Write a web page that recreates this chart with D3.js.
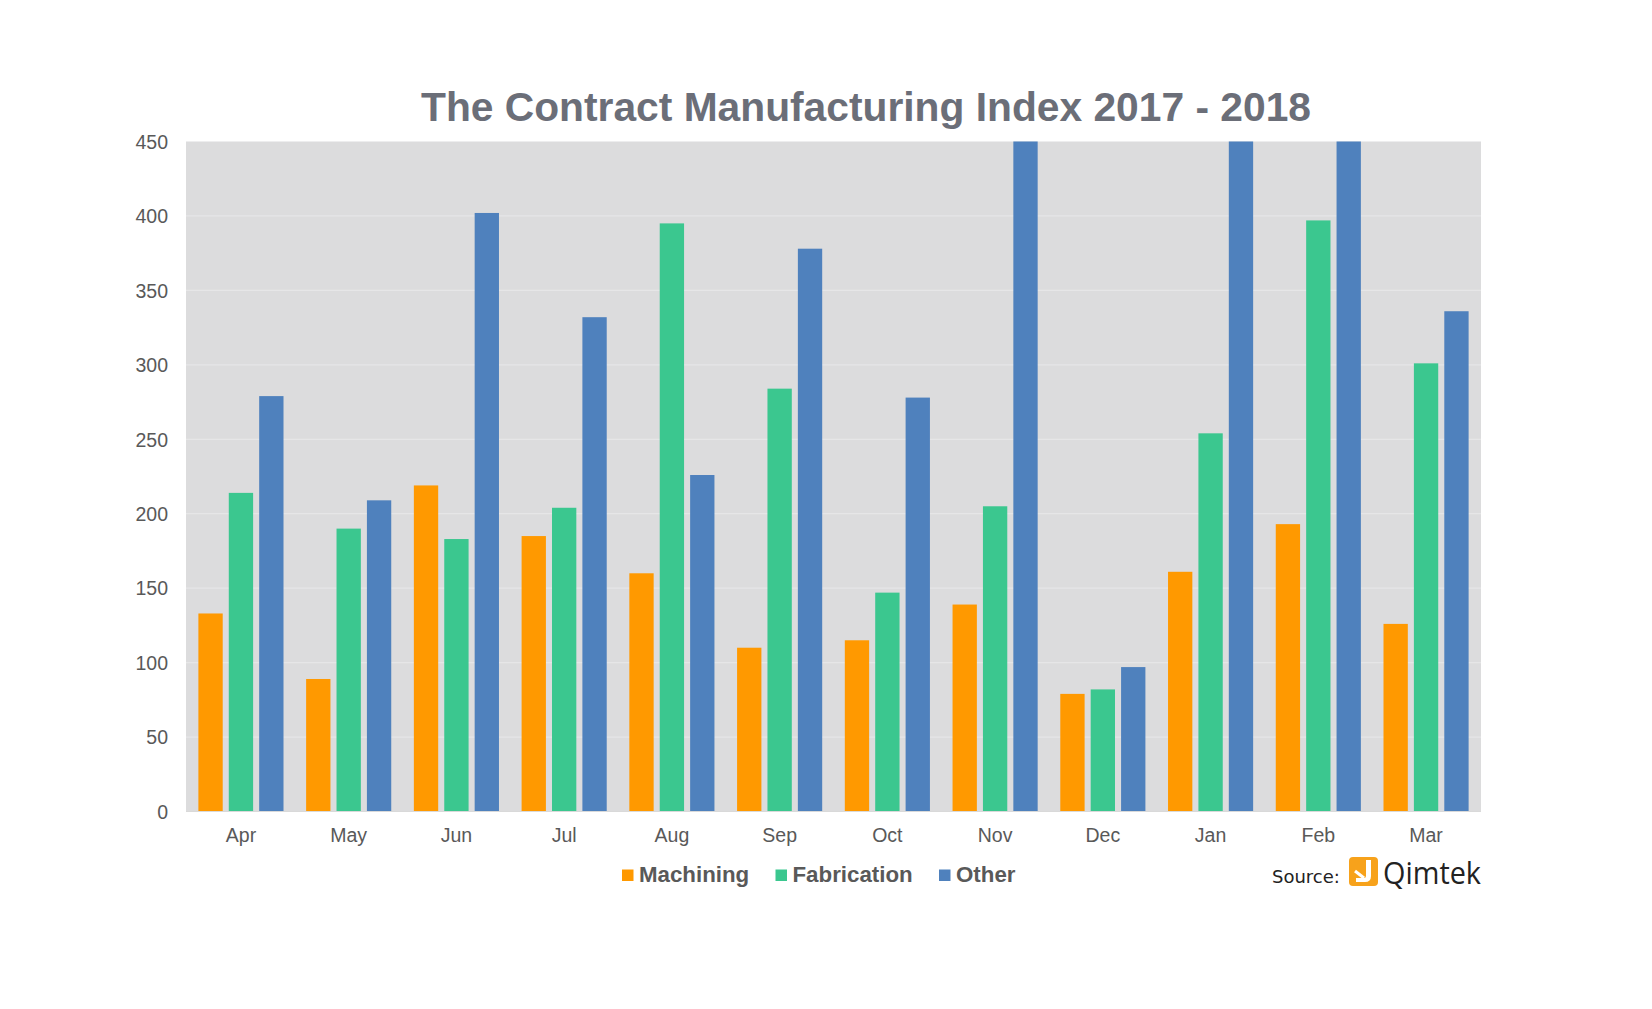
<!DOCTYPE html>
<html>
<head>
<meta charset="utf-8">
<script src="https://cdn.jsdelivr.net/npm/d3@7"></script>
<style>
  html, body { margin: 0; padding: 0; background: #ffffff; }
  svg { display: block; }
</style>
</head>
<body>
<svg id="chart" width="1652" height="1009"></svg>
<script>
const months = ["Apr","May","Jun","Jul","Aug","Sep","Oct","Nov","Dec","Jan","Feb","Mar"];
const seriesNames = ["Machining","Fabrication","Other"];
const machining   = [133, 89, 219, 185, 160, 110, 115, 139, 79, 161, 193, 126];
const fabrication = [214, 190, 183, 204, 395, 284, 147, 205, 82, 254, 397, 301];
const other       = [279, 209, 402, 332, 226, 378, 278, 470, 97, 470, 470, 336];
const yTicks = [0, 50, 100, 150, 200, 250, 300, 350, 400, 450];
const colors = ["#FF9900", "#3BC78F", "#4F81BD"];
const titleText = "The Contract Manufacturing Index 2017 - 2018";

const svg = d3.select("#chart");
const W = 1652, H = 1009;
const plot = {left: 186, right: 1481, top: 141.5, bottom: 811.5};

svg.append("rect").attr("width", W).attr("height", H).attr("fill", "#ffffff");

const x0 = d3.scaleBand().domain(months).range([plot.left, plot.right])
  .paddingInner(0.21).paddingOuter(0.115);
const x1 = d3.scaleBand().domain(seriesNames).range([0, x0.bandwidth()])
  .paddingInner(0.2).paddingOuter(0);
const y = d3.scaleLinear().domain([0, 450]).range([plot.bottom, plot.top]).clamp(true);

svg.append("rect")
  .attr("x", plot.left).attr("y", plot.top)
  .attr("width", plot.right - plot.left).attr("height", plot.bottom - plot.top)
  .attr("fill", "#DCDCDD");

svg.append("g").selectAll("line").data(yTicks.filter(d => d > 0 && d < 450)).join("line")
  .attr("x1", plot.left).attr("x2", plot.right)
  .attr("y1", d => y(d)).attr("y2", d => y(d))
  .attr("stroke", "#E6E6E7").attr("stroke-width", 1.2);

const data = months.map((m, i) => ({m, vals: [machining[i], fabrication[i], other[i]]}));
const groups = svg.append("g").selectAll("g").data(data).join("g")
  .attr("transform", d => `translate(${x0(d.m)},0)`);
groups.selectAll("rect").data(d => d.vals.map((v, j) => ({s: seriesNames[j], v, j}))).join("rect")
  .attr("x", d => x1(d.s))
  .attr("width", x1.bandwidth())
  .attr("y", d => y(d.v))
  .attr("height", d => y(0) - y(d.v))
  .attr("fill", d => colors[d.j]);

svg.append("line").attr("x1", plot.left).attr("x2", plot.right)
  .attr("y1", plot.bottom).attr("y2", plot.bottom)
  .attr("stroke", "#D9D9D9").attr("stroke-width", 1);

const yAxis = d3.axisLeft(y).tickValues(yTicks).tickSize(0).tickPadding(0);
const gy = svg.append("g").attr("transform", `translate(168,0)`).call(yAxis);
gy.select(".domain").remove();
gy.selectAll("text").attr("font-family", "Liberation Sans, Arial, sans-serif")
  .attr("font-size", 19.5).attr("fill", "#595959").attr("dy", "0.35em");

const xAxis = d3.axisBottom(x0).tickSize(0).tickPadding(0);
const gx = svg.append("g").attr("transform", `translate(0,${plot.bottom + 17})`).call(xAxis);
gx.select(".domain").remove();
gx.selectAll("text").attr("font-family", "Liberation Sans, Arial, sans-serif")
  .attr("font-size", 19.5).attr("fill", "#595959").attr("dy", "0.71em");

svg.append("text")
  .attr("x", 866).attr("y", 121)
  .attr("text-anchor", "middle")
  .attr("font-family", "Liberation Sans, Arial, sans-serif")
  .attr("font-weight", "bold")
  .attr("font-size", 41)
  .attr("textLength", 890).attr("lengthAdjust", "spacingAndGlyphs")
  .attr("fill", "#6B6E78")
  .text(titleText);

const legendX = [622, 775.5, 939];
const lg = svg.append("g").selectAll("g").data(seriesNames).join("g")
  .attr("transform", (d, i) => `translate(${legendX[i]},0)`);
lg.append("rect").attr("x", 0).attr("y", 869.5).attr("width", 11.5).attr("height", 11.5)
  .attr("fill", (d, i) => colors[i]);
lg.append("text").attr("x", 17).attr("y", 882)
  .attr("font-family", "Liberation Sans, Arial, sans-serif")
  .attr("font-weight", "bold").attr("font-size", 22.3).attr("fill", "#595959")
  .text(d => d);

svg.append("text").attr("x", 1272).attr("y", 883)
  .attr("font-family", "DejaVu Sans, sans-serif").attr("font-size", 18)
  .attr("fill", "#222222").text("Source:");
const logo = svg.append("g").attr("transform", "translate(1349,857)");
logo.append("rect").attr("width", 29).attr("height", 29).attr("rx", 4).attr("fill", "#F7A21B");
logo.append("path")
  .attr("d", "M17,3 L22,3 L22,19 Q22,25 16,25 L7,25 L7,21 L15,21 Q17,21 17,19 Z")
  .attr("fill", "#ffffff");
logo.append("path").attr("d", "M6,14 L15,21").attr("stroke", "#ffffff").attr("stroke-width", 3);
svg.append("text").attr("x", 1383).attr("y", 884)
  .attr("font-family", "Open Sans, DejaVu Sans, sans-serif").attr("font-size", 31)
  .attr("textLength", 98).attr("lengthAdjust", "spacingAndGlyphs")
  .attr("fill", "#222222").text("Qimtek");
</script>
</body>
</html>
